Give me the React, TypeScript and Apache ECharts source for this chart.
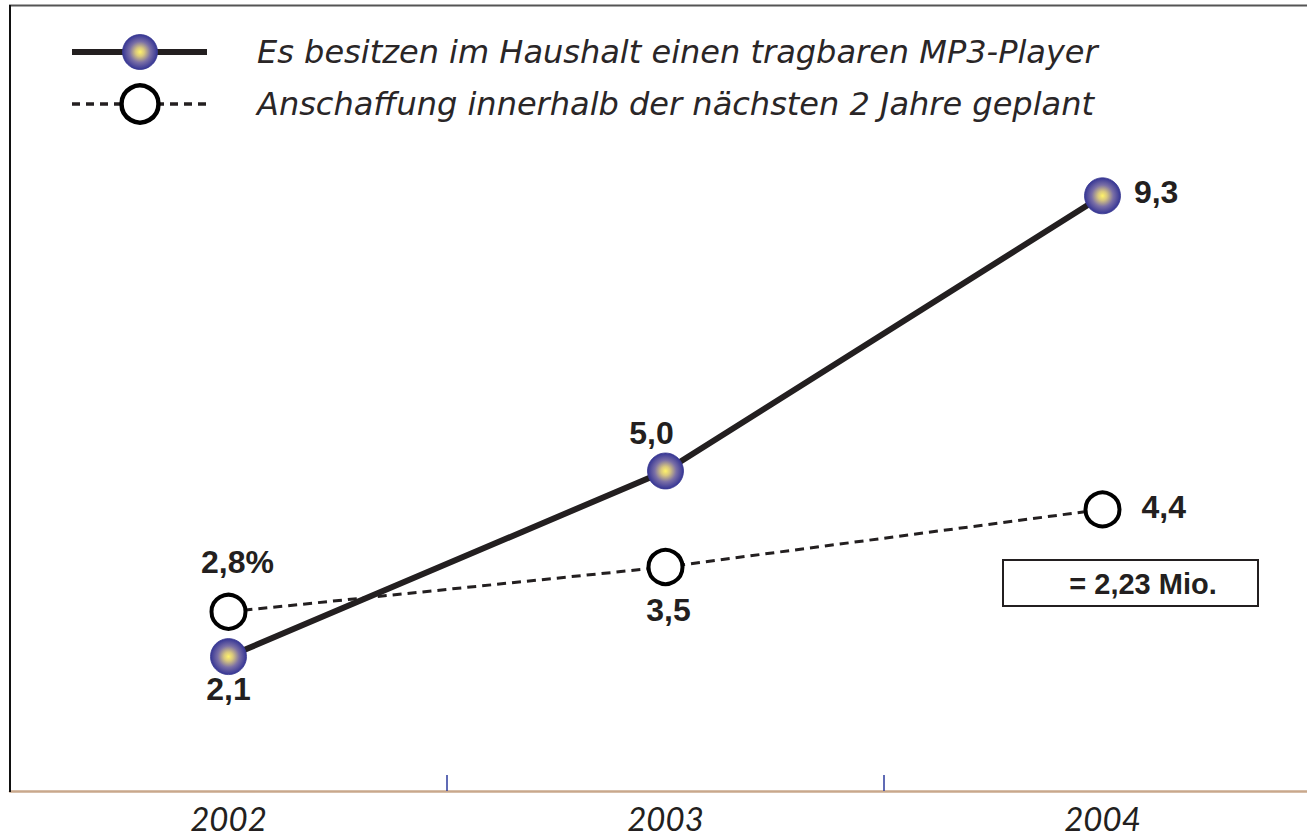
import React, { useEffect, useRef } from "react";
import * as echarts from "echarts";

const years = ["2002", "2003", "2004"];
const owners = [2.1, 5.0, 9.3];
const planned = [2.8, 3.5, 4.4];
const ownerLabels = ["2,1", "5,0", "9,3"];
const plannedLabels = ["2,8%", "3,5", "4,4"];
const legendNames = [
  "Es besitzen im Haushalt einen tragbaren MP3-Player",
  "Anschaffung innerhalb der nächsten 2 Jahre geplant",
];
const noteText = "= 2,23 Mio.";

const ownerLabelPos = ["bottom", "top", "right"];
const ownerLabelDist = [-2, 4, 13];
const ownerLabelOffset = [[0, 0], [-14, 0], [0, -4]];
const plannedLabelPos = ["top", "bottom", "right"];
const plannedLabelDist = [15, 8, 20];
const plannedLabelOffset = [[9, 0], [3, 0], [0, -2]];

const ballGradient = () =>
  new echarts.graphic.RadialGradient(0.5, 0.5, 0.5, [
    { offset: 0, color: "#fff36a" },
    { offset: 0.25, color: "#d8c77e" },
    { offset: 0.6, color: "#7a6fa6" },
    { offset: 1, color: "#353595" },
  ]);

const labelFont = {
  fontFamily: "Liberation Sans, Arial, sans-serif",
  fontWeight: "bold" as const,
  fontSize: 32,
  color: "#231f20",
};

export default function App() {
  const ref = useRef<HTMLDivElement>(null);
  useEffect(() => {
    if (!ref.current) return;
    const chart = echarts.init(ref.current, null, { renderer: "svg" });
    const legendFont = {
      fontFamily: "DejaVu Sans, sans-serif",
      fontStyle: "italic",
      fontWeight: 300,
      fontSize: 32,
      fill: "#2a2627",
    };
    chart.setOption({
      animation: false,
      backgroundColor: "#ffffff",
      grid: { left: 10, top: 23, width: 1311, height: 768 },
      xAxis: {
        type: "category",
        data: years,
        boundaryGap: true,
        axisLine: { show: true, lineStyle: { color: "#c9a88c", width: 2.5 } },
        axisTick: { show: true, inside: true, length: 16, lineStyle: { color: "#2b3a9c", width: 1.5 } },
        axisLabel: {
          margin: 12,
          fontFamily: "Lato, sans-serif",
          fontStyle: "italic",
          fontSize: 33,
          lineHeight: 30,
          color: "#231f20",
        },
        splitLine: { show: false },
      },
      yAxis: {
        type: "value",
        min: 0,
        max: 12,
        show: false,
        splitLine: { show: false },
      },
      series: [
        {
          type: "line",
          name: legendNames[0],
          data: owners.map((v, i) => ({
            value: v,
            label: {
              show: true,
              position: ownerLabelPos[i],
              distance: ownerLabelDist[i],
              offset: ownerLabelOffset[i],
              formatter: ownerLabels[i],
              ...labelFont,
            },
          })),
          symbol: "circle",
          symbolSize: 36,
          lineStyle: { color: "#231f20", width: 6 },
          itemStyle: { color: ballGradient(), borderColor: "#3a3a90", borderWidth: 0.8 },
          z: 3,
        },
        {
          type: "line",
          name: legendNames[1],
          data: planned.map((v, i) => ({
            value: v,
            label: {
              show: true,
              position: plannedLabelPos[i],
              distance: plannedLabelDist[i],
              offset: plannedLabelOffset[i],
              formatter: plannedLabels[i],
              ...labelFont,
            },
          })),
          symbol: "circle",
          symbolSize: 34,
          lineStyle: { color: "#231f20", width: 3, type: [9, 6] },
          itemStyle: { color: "#ffffff", borderColor: "#000000", borderWidth: 4 },
          z: 2,
        },
      ],
      graphic: [
        { type: "line", z: 100, shape: { x1: 9, y1: 5.5, x2: 1330, y2: 5.5 }, style: { stroke: "#555555", lineWidth: 2 } },
        { type: "line", z: 100, shape: { x1: 10, y1: 5, x2: 10, y2: 792 }, style: { stroke: "#111111", lineWidth: 2 } },
        { type: "line", shape: { x1: 72, y1: 52, x2: 207, y2: 52 }, style: { stroke: "#231f20", lineWidth: 6 } },
        { type: "circle", shape: { cx: 140, cy: 52, r: 17.5 }, style: { fill: ballGradient(), stroke: "#3a3a90", lineWidth: 0.8 } },
        { type: "text", x: 257, y: 52, style: { text: legendNames[0], verticalAlign: "middle", ...legendFont } },
        { type: "line", shape: { x1: 72, y1: 104, x2: 207, y2: 104 }, style: { stroke: "#231f20", lineWidth: 3.5, lineDash: [8, 6] } },
        { type: "circle", shape: { cx: 140, cy: 104, r: 18.5 }, style: { fill: "#ffffff", stroke: "#000000", lineWidth: 4.5 } },
        { type: "text", x: 257, y: 104, style: { text: legendNames[1], verticalAlign: "middle", ...legendFont } },
        { type: "rect", shape: { x: 1003, y: 560, width: 255, height: 46 }, style: { fill: "#ffffff", stroke: "#231f20", lineWidth: 2 } },
        {
          type: "text",
          x: 1143,
          y: 584,
          style: {
            text: noteText,
            align: "center",
            verticalAlign: "middle",
            fontFamily: "Liberation Sans, Arial, sans-serif",
            fontWeight: "bold",
            fontSize: 29,
            fill: "#231f20",
          },
        },
      ],
    });
    return () => chart.dispose();
  }, []);
  return (
    <div
      ref={ref}
      style={{ position: "fixed", left: 0, top: 0, width: 1330, height: 837, background: "#fff" }}
    />
  );
}
